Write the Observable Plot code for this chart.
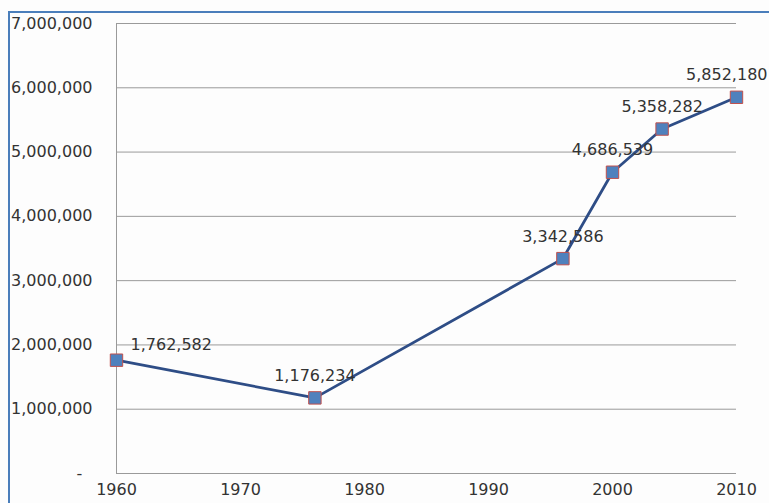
<!DOCTYPE html>
<html>
<head>
<meta charset="utf-8">
<script src="https://cdn.jsdelivr.net/npm/d3@7"></script>
<script src="https://cdn.jsdelivr.net/npm/@observablehq/plot@0.6"></script>
<style>
  html, body { margin: 0; padding: 0; background: #fdfdfd; overflow: hidden; }
  #wrap { position: relative; width: 769px; height: 503px; overflow: hidden; }
  #frame { position: absolute; left: 8px; top: 11px; width: 900px; height: 900px;
           border-left: 2px solid #4a7ebb; border-top: 2px solid #4a7ebb; box-sizing: border-box; }
  #chart { position: absolute; left: 0; top: 0; }
</style>
</head>
<body>
<div id="wrap"><div id="frame"></div><div id="chart"></div></div>
<script>
const years = [1960, 1976, 1996, 2000, 2004, 2010];
const population = [1762582, 1176234, 3342586, 4686539, 5358282, 5852180];
const xTicks = [1960, 1970, 1980, 1990, 2000, 2010];
const yTicks = [0, 1000000, 2000000, 3000000, 4000000, 5000000, 6000000, 7000000];

const data = years.map((y, i) => ({year: y, value: population[i]}));
const fmt = d3.format(",");
const last = data.length - 1;
const font = "DejaVu Sans, Verdana, sans-serif";
const fs = 16;

const chart = Plot.plot({
  width: 769,
  height: 503,
  marginLeft: 116,
  marginRight: 33,
  marginTop: 23,
  marginBottom: 30,
  style: {fontFamily: font, fontSize: fs + "px", color: "#333", background: "transparent", overflow: "visible"},
  x: {domain: [1960, 2010], label: null},
  y: {domain: [0, 7000000], label: null},
  marks: [
    Plot.gridY(yTicks, {stroke: "#9a9a9a", strokeOpacity: 1, strokeWidth: 1}),
    Plot.ruleX([1960], {stroke: "#9a9a9a", strokeWidth: 1}),
    Plot.axisX({ticks: xTicks, tickFormat: "d", tickSize: 0, tickPadding: 10, fontSize: fs, fill: "#333", label: null}),
    Plot.axisY({ticks: yTicks, tickFormat: d => d === 0 ? "-\u00a0\u00a0" : fmt(d), tickSize: 0, tickPadding: 24, fontSize: fs, fill: "#333", label: null}),
    Plot.line(data, {x: "year", y: "value", stroke: "#2e4d86", strokeWidth: 2.8}),
    Plot.dot(data, {x: "year", y: "value", symbol: "square", r: 7, fill: "#4f81bd", stroke: "#c0504d", strokeWidth: 1}),
    Plot.text(data, {filter: (d, i) => i === 0, x: "year", y: "value", text: d => fmt(d.value), textAnchor: "start", dx: 14, dy: -15, fontSize: fs, fill: "#333"}),
    Plot.text(data, {filter: (d, i) => i > 0 && i < last, x: "year", y: "value", text: d => fmt(d.value), textAnchor: "middle", dy: -22, fontSize: fs, fill: "#333"}),
    Plot.text(data, {filter: (d, i) => i === last, x: "year", y: "value", text: d => fmt(d.value), textAnchor: "end", dx: 31, dy: -22, fontSize: fs, fill: "#333"})
  ]
});
document.getElementById("chart").appendChild(chart);
</script>
</body>
</html>
